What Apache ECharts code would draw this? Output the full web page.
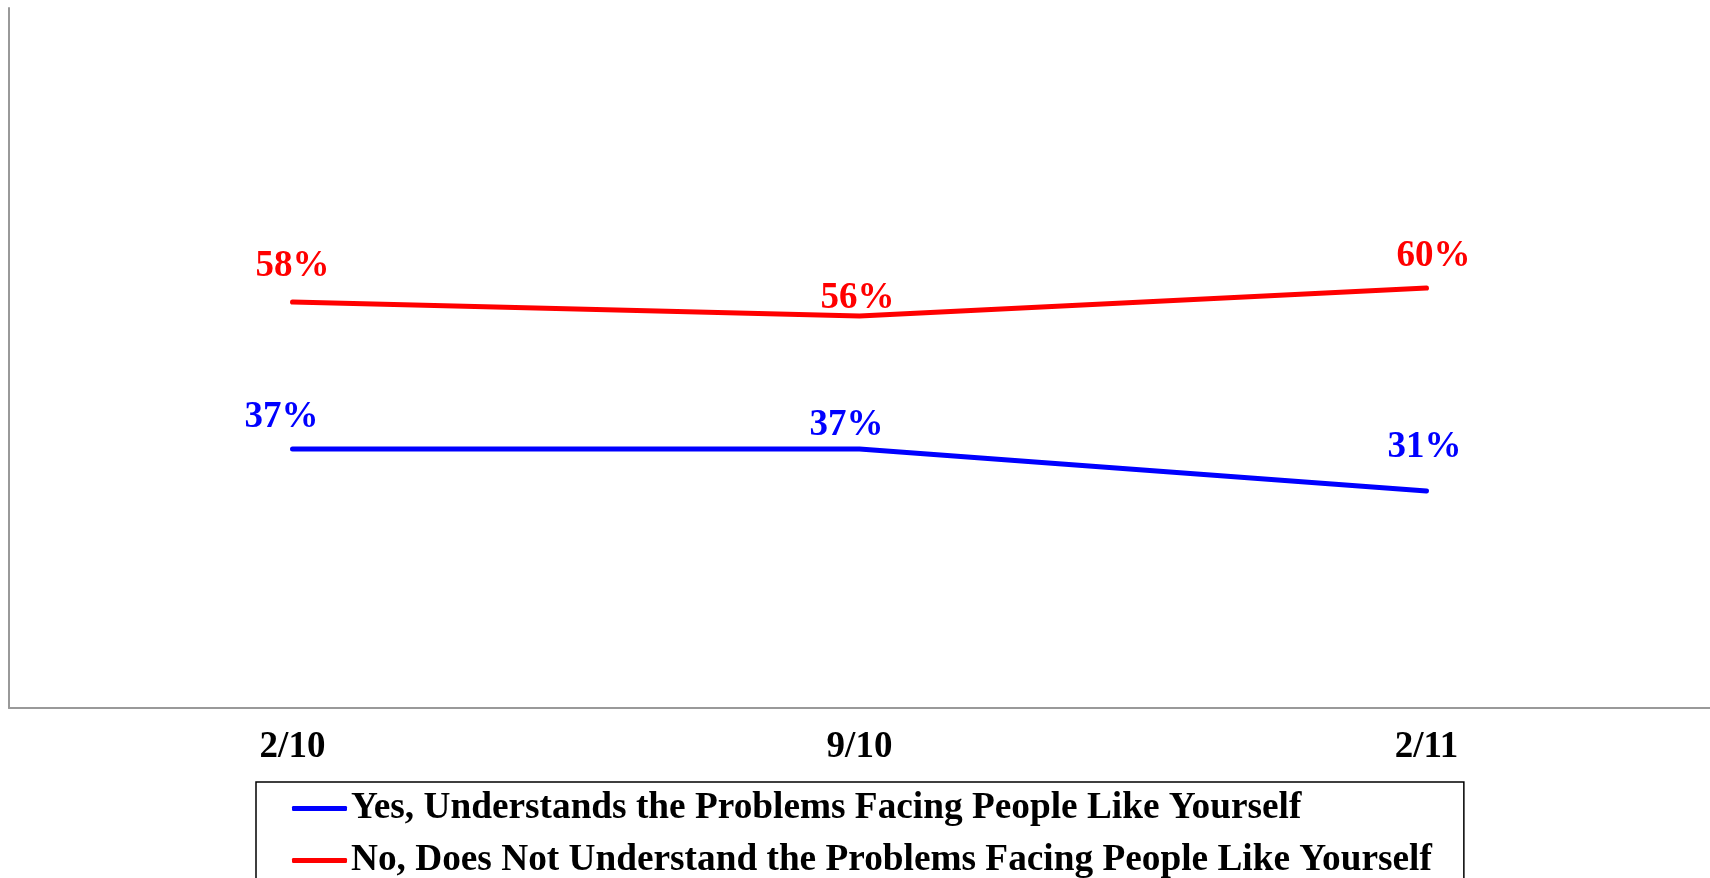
<!DOCTYPE html>
<html>
<head>
<meta charset="utf-8">
<title>Understands the Problems</title>
<script src="https://cdn.jsdelivr.net/npm/echarts@6/dist/echarts.min.js"></script>
<style>
  html, body { margin: 0; padding: 0; background: #fff; }
  #chart { width: 1710px; height: 878px; }
</style>
</head>
<body>
<div id="chart"></div>
<script>
// Data
const periods = ['2/10', '9/10', '2/11'];
const yesValues = [37, 37, 31];
const noValues = [58, 56, 60];
const yesName = 'Yes, Understands the Problems Facing People Like Yourself';
const noName = 'No, Does Not Understand the Problems Facing People Like Yourself';

// Label nudges so the labels sit like in the original
const yesLabelOffsets = [[-11, 4], [-13, 12], [-2, -8]];
const noLabelOffsets = [[0, 0], [-2, 18], [7, 4]];

const FONT = '"Liberation Serif", "Times New Roman", serif';

function buildData(values, offsets) {
    return values.map((v, i) => ({
        value: v,
        label: { offset: offsets[i] }
    }));
}

function lineSeries(name, values, offsets, color) {
    return {
        name: name,
        type: 'line',
        data: buildData(values, offsets),
        symbol: 'circle',
        symbolSize: 0,
        showSymbol: true,
        itemStyle: { color: color },
        color: color,
        lineStyle: { color: color, width: 5, cap: 'round', join: 'round' },
        label: {
            show: true,
            position: 'top',
            distance: 17,
            formatter: '{c}%',
            color: color,
            fontFamily: FONT,
            fontWeight: 'bold',
            fontSize: 37
        },
        animation: false
    };
}

const chart = echarts.init(document.getElementById('chart'));

chart.setOption({
    backgroundColor: '#fff',
    grid: { left: 9, right: 0, top: 8, bottom: 170 },
    xAxis: {
        type: 'category',
        data: periods,
        boundaryGap: true,
        axisLine: { lineStyle: { color: '#999', width: 2 } },
        axisTick: { show: false },
        axisLabel: {
            margin: 21,
            color: '#000',
            fontFamily: FONT,
            fontWeight: 'bold',
            fontSize: 37
        }
    },
    yAxis: {
        type: 'value',
        min: 0,
        max: 100,
        axisLine: { show: true, lineStyle: { color: '#999', width: 2 } },
        axisTick: { show: false },
        axisLabel: { show: false },
        splitLine: { show: false }
    },
    legend: {
        orient: 'vertical',
        left: 256,
        top: 782,
        height: 200,
        padding: [8, 32, 10, 36],
        itemGap: 15,
        itemWidth: 55,
        itemHeight: 5,
        borderColor: '#000',
        borderWidth: 1.5,
        icon: 'roundRect',
        textStyle: {
            color: '#000',
            fontFamily: FONT,
            fontWeight: 'bold',
            fontSize: 37.3,
            padding: [0, 0, 0, -1]
        },
        data: [yesName, noName]
    },
    series: [
        lineSeries(yesName, yesValues, yesLabelOffsets, '#0000ff'),
        lineSeries(noName, noValues, noLabelOffsets, '#ff0000')
    ]
});
</script>
</body>
</html>
